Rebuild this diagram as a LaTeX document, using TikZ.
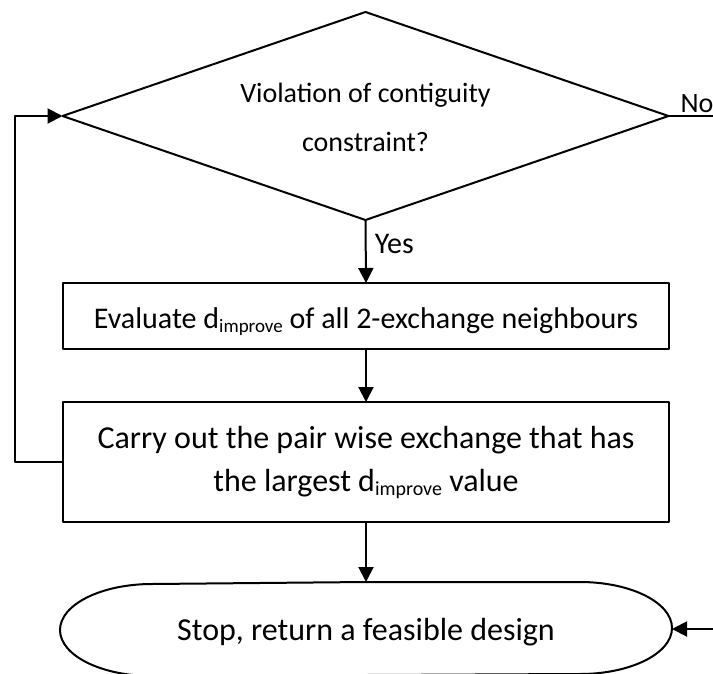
\documentclass[tikz,border=0pt]{standalone}
\usepackage{fontspec}
\setmainfont{Carlito}
\usetikzlibrary{arrows.meta}

% subscript used in the process boxes
\newcommand{\dimp}[1]{d\raisebox{-4pt}{\fontsize{#1}{#1}\selectfont improve}}

\begin{document}
\begin{tikzpicture}[x=1pt,y=-1pt,
    line width=2pt,line join=round,
    arr/.style={-{Triangle[length=15pt,width=15pt]}},
    decision/.style={rectangle,outer sep=0pt,inner sep=0pt,
      minimum width=606pt,minimum height=208pt,align=center,
      font=\fontsize{28}{49}\selectfont},
    procbox/.style={rectangle,draw,outer sep=0pt,inner sep=0pt,
      minimum width=606pt,align=center},
    lbl/.style={inner sep=0pt}]
  \useasboundingbox (0,0) rectangle (713,673);

  % decision: rhombus through the mid-points of the node's sides
  \node[decision] (dec) at (365.5,116) {};
  \node[inner sep=0pt,align=center,font=\fontsize{28}{49}\selectfont,yshift=-1.5pt]
    (dectext) at (dec.center) {Violation of contiguity\\constraint?};
  \draw (dec.north) -- (dec.east) -- (dec.south) -- (dec.west) -- cycle;

  % process steps
  \node[procbox,minimum height=66pt,font=\fontsize{30}{36}\selectfont,
        text height=28pt,text depth=4pt] (eval) at (366,316)
    {Evaluate \dimp{19} of all 2-exchange neighbours};
  \node[procbox,minimum height=120pt,font=\fontsize{32}{43}\selectfont] (carry) at (366,462)
    {Carry out the pair wise exchange that has\\the largest \dimp{20} value};

  % terminator: straight top and bottom, half-elliptic ends
  \node[inner sep=0pt,minimum width=610pt,minimum height=92pt,
        font=\fontsize{32}{38}\selectfont,text height=28pt,text depth=6pt]
        (stop) at (366,629) {Stop, return a feasible design};
  \draw (stop.north) -- ([xshift=-92pt]stop.north east)
     arc[start angle=90,end angle=-90,x radius=92pt,y radius=46pt]
     -- ([xshift=92pt]stop.south west)
     arc[start angle=270,end angle=90,x radius=92pt,y radius=46pt]
     -- cycle;

  % free ends at the right margin
  \coordinate (noend) at (713,116);
  \coordinate (inend) at (713,629);

  % connectors
  \draw[arr] (dec.south) -- node[lbl,anchor=base west,xshift=8pt,yshift=-1.5pt,
      font=\fontsize{30}{36}\selectfont]{Yes} (eval.north);
  \draw[arr] (eval.south) -- (carry.north);
  \draw[arr] (carry.south) -- (stop.north);
  \draw[arr] (carry.west) -- ++(-48,0) |- (dec.west);
  \draw (dec.east) -- node[lbl,pos=0,anchor=base west,xshift=11pt,yshift=4pt,
      font=\fontsize{28}{34}\selectfont]{No} (noend);
  \draw[arr] (inend) -- (stop.east);
\end{tikzpicture}
\end{document}
